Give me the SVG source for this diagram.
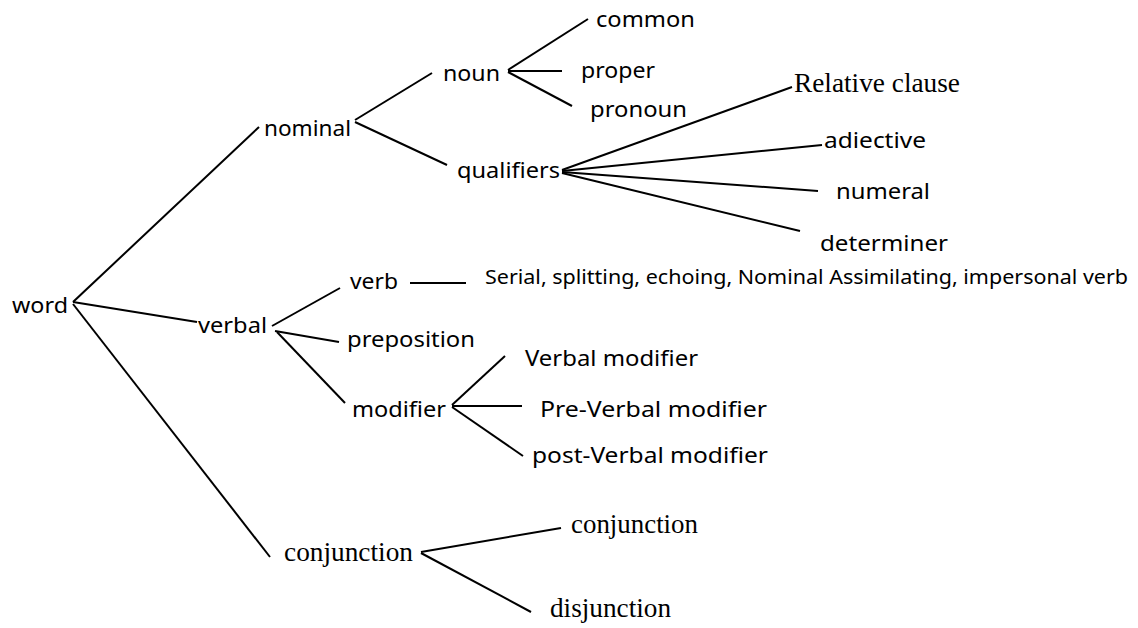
<svg xmlns="http://www.w3.org/2000/svg" width="1138" height="628" viewBox="0 0 1138 628">
<style>
.s{font-family:"Noto Sans","Open Sans","DejaVu Sans",sans-serif;font-size:22.5px;fill:#000}
.sm{font-family:"Noto Sans","Open Sans","DejaVu Sans",sans-serif;font-size:19px;fill:#000}
.r{font-family:"Liberation Serif","Times New Roman",serif;font-size:27px;fill:#000}
#connectors line{stroke:#000;stroke-width:2;stroke-linecap:butt}
</style>
<rect width="1138" height="628" fill="#fff"/>
<g id="connectors">
<line x1="73" y1="302" x2="259" y2="127"/>
<line x1="73" y1="302" x2="197" y2="322"/>
<line x1="73" y1="304" x2="270" y2="557"/>
<line x1="355" y1="120" x2="432" y2="73"/>
<line x1="355" y1="122" x2="447" y2="165"/>
<line x1="508" y1="70" x2="588" y2="19"/>
<line x1="508" y1="71" x2="562" y2="71"/>
<line x1="508" y1="72" x2="572" y2="106"/>
<line x1="562" y1="170" x2="792" y2="87"/>
<line x1="562" y1="171" x2="822" y2="145"/>
<line x1="562" y1="172" x2="818" y2="191"/>
<line x1="562" y1="173" x2="800" y2="231"/>
<line x1="272" y1="326" x2="340" y2="288"/>
<line x1="275" y1="331" x2="339" y2="342"/>
<line x1="277" y1="332" x2="345" y2="403"/>
<line x1="410" y1="283" x2="466" y2="283"/>
<line x1="452" y1="405" x2="505" y2="356"/>
<line x1="452" y1="406" x2="522" y2="406"/>
<line x1="452" y1="407" x2="523" y2="456"/>
<line x1="421" y1="552" x2="561" y2="528"/>
<line x1="421" y1="553" x2="531" y2="612"/>
</g>
<g id="word"><text class="s" x="12" y="313" textLength="56" lengthAdjust="spacingAndGlyphs">word</text></g>
<g id="nominal"><text class="s" x="264" y="136" textLength="87" lengthAdjust="spacingAndGlyphs">nominal</text></g>
<g id="noun"><text class="s" x="443" y="81" textLength="57" lengthAdjust="spacingAndGlyphs">noun</text></g>
<g id="common"><text class="s" x="596" y="27" textLength="99" lengthAdjust="spacingAndGlyphs">common</text></g>
<g id="proper"><text class="s" x="581" y="78" textLength="74" lengthAdjust="spacingAndGlyphs">proper</text></g>
<g id="pronoun"><text class="s" x="590" y="117" textLength="97" lengthAdjust="spacingAndGlyphs">pronoun</text></g>
<g id="qualifiers"><text class="s" x="457" y="178" textLength="103" lengthAdjust="spacingAndGlyphs">qualifiers</text></g>
<g id="relative-clause"><text class="r" x="794" y="92" textLength="166" lengthAdjust="spacingAndGlyphs">Relative clause</text></g>
<g id="adiective"><text class="s" x="824" y="148" textLength="102" lengthAdjust="spacingAndGlyphs">adiective</text></g>
<g id="numeral"><text class="s" x="836" y="199" textLength="94" lengthAdjust="spacingAndGlyphs">numeral</text></g>
<g id="determiner"><text class="s" x="820" y="251" textLength="128" lengthAdjust="spacingAndGlyphs">determiner</text></g>
<g id="verb"><text class="s" x="350" y="289" textLength="48" lengthAdjust="spacingAndGlyphs">verb</text></g>
<g id="verb-types"><text class="sm" x="485" y="284" textLength="643" lengthAdjust="spacingAndGlyphs">Serial, splitting, echoing, Nominal Assimilating, impersonal verb</text></g>
<g id="verbal"><text class="s" x="198" y="333" textLength="69" lengthAdjust="spacingAndGlyphs">verbal</text></g>
<g id="preposition"><text class="s" x="347" y="347" textLength="128" lengthAdjust="spacingAndGlyphs">preposition</text></g>
<g id="modifier"><text class="s" x="352" y="417" textLength="94" lengthAdjust="spacingAndGlyphs">modifier</text></g>
<g id="verbal-modifier"><text class="s" x="525" y="366" textLength="173" lengthAdjust="spacingAndGlyphs">Verbal modifier</text></g>
<g id="pre-verbal-modifier"><text class="s" x="540" y="417" textLength="227" lengthAdjust="spacingAndGlyphs">Pre-Verbal modifier</text></g>
<g id="post-verbal-modifier"><text class="s" x="532" y="463" textLength="236" lengthAdjust="spacingAndGlyphs">post-Verbal modifier</text></g>
<g id="conjunction"><text class="r" x="284" y="561" textLength="129" lengthAdjust="spacingAndGlyphs">conjunction</text></g>
<g id="conjunction-sub"><text class="r" x="571" y="533" textLength="127" lengthAdjust="spacingAndGlyphs">conjunction</text></g>
<g id="disjunction"><text class="r" x="550" y="617" textLength="121" lengthAdjust="spacingAndGlyphs">disjunction</text></g>
</svg>
